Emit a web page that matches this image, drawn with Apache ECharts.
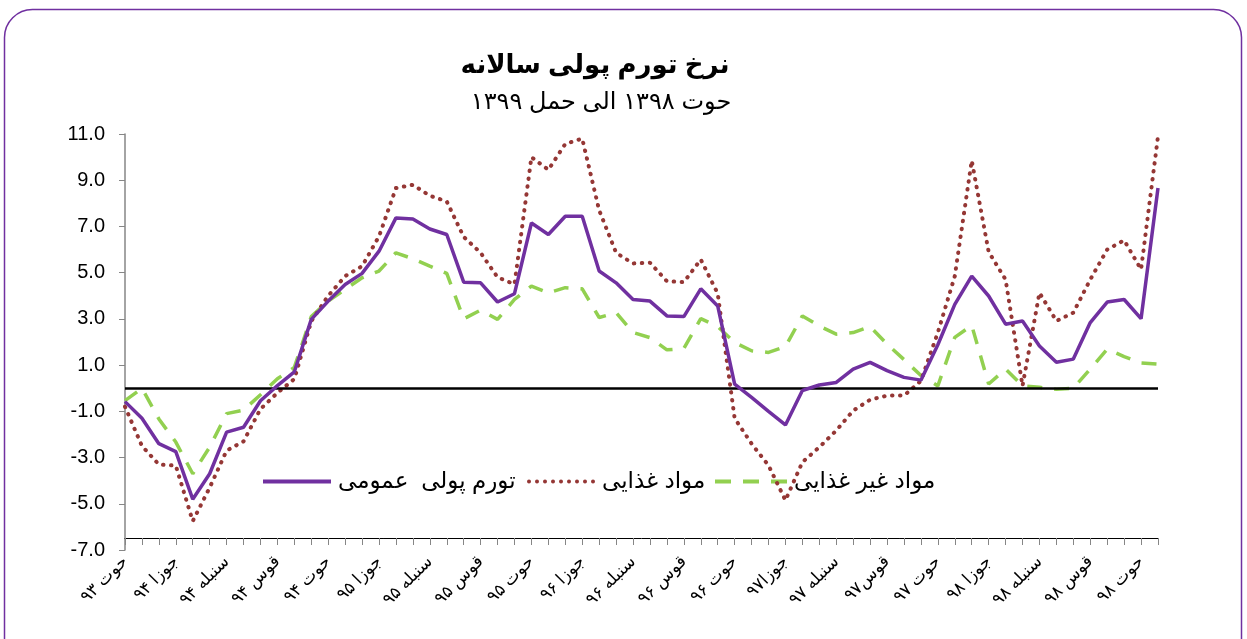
<!DOCTYPE html>
<html>
<head>
<meta charset="utf-8">
<title>نرخ تورم پولی سالانه</title>
<script src="https://cdn.jsdelivr.net/npm/echarts@6/dist/echarts.min.js"></script>
<style>
    html, body { margin: 0; padding: 0; background: #ffffff; }
    #main { width: 1247px; height: 639px; }
</style>
</head>
<body>
<div id="main"></div>
<script>
// 数据 - months from حوت ۹۳ to حمل ۹۹
var categories = [
    'حوت ۹۳',
    'حمل ۹۴', 'ثور ۹۴', 'جوزا ۹۴', 'سرطان ۹۴', 'اسد ۹۴', 'سنبله ۹۴', 'میزان ۹۴', 'عقرب ۹۴', 'قوس ۹۴', 'جدی ۹۴', 'دلو ۹۴', 'حوت ۹۴',
    'حمل ۹۵', 'ثور ۹۵', 'جوزا ۹۵', 'سرطان ۹۵', 'اسد ۹۵', 'سنبله ۹۵', 'میزان ۹۵', 'عقرب ۹۵', 'قوس ۹۵', 'جدی ۹۵', 'دلو ۹۵', 'حوت ۹۵',
    'حمل ۹۶', 'ثور ۹۶', 'جوزا ۹۶', 'سرطان ۹۶', 'اسد ۹۶', 'سنبله ۹۶', 'میزان ۹۶', 'عقرب ۹۶', 'قوس ۹۶', 'جدی ۹۶', 'دلو ۹۶', 'حوت ۹۶',
    'حمل ۹۷', 'ثور ۹۷', 'جوزا۹۷', 'سرطان ۹۷', 'اسد ۹۷', 'سنبله ۹۷', 'میزان ۹۷', 'عقرب ۹۷', 'قوس۹۷', 'جدی ۹۷', 'دلو ۹۷', 'حوت ۹۷',
    'حمل ۹۸', 'ثور ۹۸', 'جوزا ۹۸', 'سرطان ۹۸', 'اسد ۹۸', 'سنبله ۹۸', 'میزان ۹۸', 'عقرب ۹۸', 'قوس ۹۸', 'جدی ۹۸', 'دلو ۹۸', 'حوت ۹۸',
    'حمل ۹۹'
];

var seriesNames = ['تورم پولی  عمومی', 'مواد غذایی', 'مواد غیر غذایی'];

// تورم پولی عمومی
var generalValues = [
    -0.58,
    -1.3, -2.4, -2.74, -4.8, -3.7, -1.9, -1.69, -0.54, 0.11, 0.71, 2.98, 3.77,
    4.49, 4.97, 5.93, 7.37, 7.32, 6.89, 6.65, 4.59, 4.56, 3.73, 4.09, 7.15,
    6.65, 7.44, 7.44, 5.07, 4.56, 3.84, 3.77, 3.13, 3.1, 4.3, 3.56, 0.18,
    -0.4, -1.0, -1.59, -0.1, 0.14, 0.25, 0.83, 1.12, 0.76, 0.47, 0.35, 1.88,
    3.63, 4.85, 3.99, 2.77, 2.91, 1.83, 1.12, 1.26, 2.84, 3.73, 3.84, 3.01,
    8.66
];

// مواد غذایی
var foodValues = [
    -0.8,
    -2.5, -3.3, -3.35, -5.75, -4.3, -2.7, -2.3, -0.9, -0.2, 0.4, 2.9, 4.0,
    4.85, 5.28, 6.57, 8.66, 8.8, 8.33, 8.08, 6.55, 5.86, 4.8, 4.5, 10.0,
    9.45, 10.57, 10.8, 7.7, 5.86, 5.4, 5.43, 4.63, 4.59, 5.57, 4.1, -1.3,
    -2.4, -3.34, -4.85, -3.2, -2.55, -1.83, -0.97, -0.5, -0.32, -0.32, 0.32, 2.41,
    4.85, 9.85, 5.9, 4.7, 0.1, 4.13, 2.91, 3.27, 4.7, 6.0, 6.4, 5.14,
    10.9
];

// مواد غیر غذایی
var nonFoodValues = [
    -0.54,
    0.0, -1.33, -2.33, -3.7, -2.55, -1.1, -0.95, -0.28, 0.41, 0.9, 3.1, 3.77,
    4.28, 4.78, 5.07, 5.86, 5.6, 5.28, 4.97, 3.0, 3.38, 2.98, 3.84, 4.42,
    4.13, 4.35, 4.3, 3.06, 3.27, 2.41, 2.19, 1.66, 1.72, 3.01, 2.67, 1.98,
    1.62, 1.55, 1.8, 3.13, 2.69, 2.34, 2.41, 2.67, 1.91, 1.24, 0.55, 0.1,
    2.2, 2.72, 0.18, 0.83, 0.1, 0.04, -0.05, 0.0, 0.83, 1.69, 1.37, 1.09,
    1.04
];

var yTicks = { min: -7, max: 11, interval: 2 };

var FONT = "'Liberation Sans', 'DejaVu Sans', sans-serif";

// legend icons drawn as paths (solid / dotted / dashed)
var ICON_SOLID = 'path://M0,0H68V4H0Z';
var ICON_DOTS = 'path://' + [2, 10, 18, 26, 34, 42, 50, 58, 66].map(function (c) {
    return 'M' + (c - 2) + ',2a2,2 0 1,0 4,0a2,2 0 1,0 -4,0Z';
}).join('');
var ICON_DASH = 'path://M0,0H16V4H0Z M28,0H44V4H28Z M56,0H72V4H56Z';

var showChart = {
    chart: null,
    // 获取dom句柄
    getChartById: function (id) {
        return echarts.init(document.getElementById(id));
    },
    // one legend box per series, placed by hand like the excel one
    makeLegend: function (name, left, icon, width) {
        return {
            left: left,
            top: 465,
            data: [{ name: name, icon: icon }],
            itemWidth: width,
            itemHeight: 4,
            itemGap: 0,
            textStyle: { fontFamily: FONT, fontSize: 23, color: '#000000', padding: [0, 0, 0, 2] },
            selectedMode: false
        };
    },
    getOption: function () {
        return {
            animation: false,
            backgroundColor: '#ffffff',
            graphic: [
                {
                    type: 'rect',
                    silent: true,
                    shape: { x: 4.5, y: 9.5, width: 1237, height: 700, r: 28 },
                    style: { fill: 'none', stroke: '#7030A0', lineWidth: 1.5 }
                },
                {
                    type: 'text',
                    x: 595,
                    y: 66,
                    style: {
                        text: 'نرخ تورم پولی سالانه',
                        font: "bold 26px " + FONT,
                        fill: '#000000',
                        align: 'center',
                        verticalAlign: 'middle'
                    }
                },
                {
                    type: 'text',
                    x: 601,
                    y: 102,
                    style: {
                        text: 'حوت ۱۳۹۸ الی حمل ۱۳۹۹',
                        font: "24px " + FONT,
                        fill: '#000000',
                        align: 'center',
                        verticalAlign: 'middle'
                    }
                }
            ],
            legend: [
                this.makeLegend(seriesNames[0], 258, ICON_SOLID, 68),
                this.makeLegend(seriesNames[1], 522, ICON_DOTS, 68),
                this.makeLegend(seriesNames[2], 710, ICON_DASH, 72)
            ],
            grid: { left: 125, right: 89, top: 134, bottom: 89 },
            xAxis: {
                type: 'category',
                data: categories,
                boundaryGap: false,
                offset: -12,
                axisLine: { onZero: false, lineStyle: { color: '#000000', width: 1 } },
                axisTick: { interval: 0, length: 7, lineStyle: { color: '#868686' } },
                axisLabel: {
                    interval: 2,
                    rotate: 45,
                    margin: 21,
                    fontFamily: FONT,
                    fontSize: 17,
                    color: '#000000'
                },
                splitLine: { show: false }
            },
            yAxis: {
                type: 'value',
                min: yTicks.min,
                max: yTicks.max,
                interval: yTicks.interval,
                axisLine: { show: true, lineStyle: { color: '#868686', width: 1.5 } },
                axisTick: { show: true, length: 6, lineStyle: { color: '#868686' } },
                axisLabel: {
                    margin: 20,
                    fontFamily: FONT,
                    fontSize: 20,
                    color: '#000000',
                    formatter: function (v) { return v.toFixed(1); }
                },
                splitLine: { show: false }
            },
            series: [
                {
                    name: 'zero',
                    type: 'line',
                    data: [],
                    z: 1,
                    markLine: {
                        silent: true,
                        symbol: 'none',
                        label: { show: false },
                        lineStyle: { color: '#000000', width: 2.5, type: 'solid' },
                        data: [{ yAxis: 0 }]
                    }
                },
                {
                    name: seriesNames[2],
                    type: 'line',
                    data: nonFoodValues,
                    symbol: 'none',
                    z: 3,
                    color: '#92D050',
                    lineStyle: { color: '#92D050', width: 3.5, type: [15, 12] }
                },
                {
                    name: seriesNames[1],
                    type: 'line',
                    data: foodValues,
                    symbol: 'none',
                    z: 4,
                    color: '#953735',
                    lineStyle: { color: '#953735', width: 4, type: [0.5, 7.5], cap: 'round' }
                },
                {
                    name: seriesNames[0],
                    type: 'line',
                    data: generalValues,
                    symbol: 'none',
                    z: 5,
                    color: '#7030A0',
                    lineStyle: { color: '#7030A0', width: 3.5 }
                }
            ]
        };
    },
    // 生成图表
    setOptionChart: function (id) {
        this.chart = this.getChartById(id);
        if (this.chart)
            this.chart.setOption(this.getOption());
    }
};

showChart.setOptionChart('main');
</script>
</body>
</html>
